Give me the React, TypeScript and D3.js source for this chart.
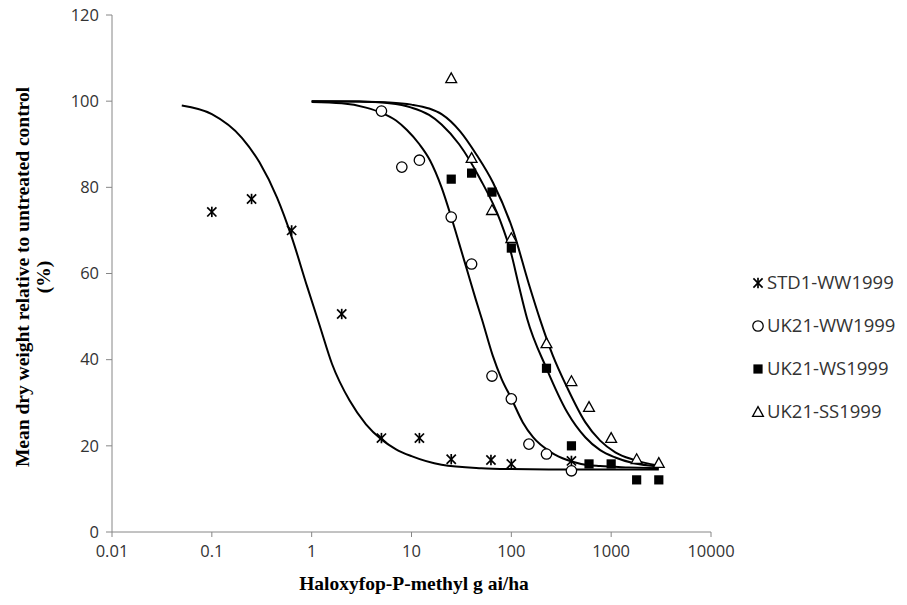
import React from 'react';
import * as d3 from 'd3';

const seriesNames = ['STD1-WW1999', 'UK21-WW1999', 'UK21-WS1999', 'UK21-SS1999'];
const xTickValues = [0.01, 0.1, 1, 10, 100, 1000, 10000];
const xTickLabels = ['0.01', '0.1', '1', '10', '100', '1000', '10000'];
const yTickValues = [0, 20, 40, 60, 80, 100, 120];

// observed points
const std1Dose = [0.1, 0.25, 0.63, 2, 5, 12, 25, 62.5, 100, 400];
const std1Val = [74.3, 77.3, 70, 50.6, 21.8, 21.8, 16.9, 16.7, 15.8, 16.5];
const ww99Dose = [5, 8, 12, 25, 40, 64, 100, 150, 225, 400];
const ww99Val = [97.7, 84.7, 86.3, 73.1, 62.2, 36.2, 30.9, 20.4, 18.1, 14.2];
const ws99Dose = [25, 40, 64, 100, 225, 400, 600, 1000, 1800, 3000];
const ws99Val = [81.9, 83.3, 78.9, 65.9, 38, 20, 15.8, 15.8, 12.1, 12.1];
const ss99Dose = [25, 40, 64, 100, 225, 400, 600, 1000, 1800, 3000];
const ss99Val = [105.3, 86.8, 74.7, 68.2, 43.8, 35, 29, 21.8, 16.9, 16];

// fitted curves
const std1CurveDose = [0.05, 0.1, 0.2, 0.3, 0.45, 0.63, 0.9, 1.2, 1.6, 2.4, 3.5, 5, 7, 10, 20, 50, 100, 300, 1000, 3000];
const std1CurveVal = [99.0, 97.0, 91.5, 85.8, 77.6, 68.5, 57, 48, 39, 30.5, 25, 21.5, 19.2, 17.6, 15.6, 14.8, 14.6, 14.5, 14.5, 14.5];
const ww99CurveDose = [1, 2, 3.5, 5, 7, 9, 12, 15.3, 20, 25, 30, 36, 44, 51, 65, 80, 100, 130, 165, 250, 363, 500, 776, 1500, 3000];
const ww99CurveVal = [99.8, 99.5, 98.5, 97.3, 95.5, 93.3, 90, 86.3, 80, 73.1, 67, 60.8, 54, 49.2, 41, 35.5, 31, 25.5, 22, 18.5, 16.7, 15.8, 15.3, 15, 14.8];
const ws99CurveDose = [1, 3, 6, 10, 15, 20, 30, 48.6, 77, 100, 118, 144, 225, 363, 550, 776, 1100, 1660, 3000];
const ws99CurveVal = [100, 99.9, 99.5, 98.5, 96.8, 94.6, 90, 82, 72.4, 64.5, 57.5, 49.5, 38, 27.8, 22, 19, 17.3, 16, 15.2];
const ss99CurveDose = [1, 3, 6, 10, 15, 20, 30.7, 45, 65.8, 104, 150, 194, 260, 363, 550, 776, 1100, 1660, 3000];
const ss99CurveVal = [100, 99.9, 99.7, 99.2, 98.3, 97, 93, 87.5, 81, 70, 57.5, 49.3, 41, 33.5, 25.5, 21.2, 18.5, 16.8, 15.4];

const W = 907;
const H = 605;

function Marker({ kind, x, y }: { kind: number; x: number; y: number }) {
  const s = 4.6;
  if (kind === 0) {
    return (
      <g stroke="#000" strokeWidth={1.7} fill="none">
        <line x1={x - s} y1={y - s} x2={x + s} y2={y + s} />
        <line x1={x - s} y1={y + s} x2={x + s} y2={y - s} />
        <line x1={x} y1={y - s - 0.6} x2={x} y2={y + s + 0.6} />
      </g>
    );
  }
  if (kind === 1) {
    return <circle cx={x} cy={y} r={5.2} fill="#fff" stroke="#000" strokeWidth={1.3} />;
  }
  if (kind === 2) {
    return <rect x={x - 4.6} y={y - 4.6} width={9.2} height={9.2} fill="#000" />;
  }
  const t = 5.4;
  return (
    <path
      d={`M${x},${y - t}L${x + t},${y + t * 0.8}L${x - t},${y + t * 0.8}Z`}
      fill="#fff"
      stroke="#000"
      strokeWidth={1.3}
    />
  );
}

export default function App() {
  const x = d3.scaleLog().domain([0.01, 10000]).range([112, 711]);
  const y = d3.scaleLinear().domain([0, 120]).range([532, 15]);

  const line = d3
    .line<[number, number]>()
    .x((d) => x(d[0]))
    .y((d) => y(d[1]))
    .curve(d3.curveMonotoneX);

  const curves = [
    d3.zip(std1CurveDose, std1CurveVal),
    d3.zip(ww99CurveDose, ww99CurveVal),
    d3.zip(ws99CurveDose, ws99CurveVal),
    d3.zip(ss99CurveDose, ss99CurveVal),
  ] as [number, number][][];

  const points = [
    d3.zip(std1Dose, std1Val),
    d3.zip(ww99Dose, ww99Val),
    d3.zip(ws99Dose, ws99Val),
    d3.zip(ss99Dose, ss99Val),
  ] as [number, number][][];

  const axisColor = '#868686';
  const tickFont = "'Open Sans', sans-serif";
  const serif = "'Liberation Serif', 'Times New Roman', serif";
  const legendRows = [283, 326, 369, 412];

  return (
    <svg
      width={W}
      height={H}
      style={{ position: 'absolute', left: 0, top: 0, background: '#fff' }}
    >
      <rect x={0} y={0} width={W} height={H} fill="#fff" />
      {/* axes */}
      <line x1={112} y1={y(120)} x2={112} y2={y(0)} stroke={axisColor} strokeWidth={1} />
      <line x1={112} y1={y(0)} x2={711} y2={y(0)} stroke={axisColor} strokeWidth={1} />
      {yTickValues.map((v) => (
        <g key={'y' + v}>
          <line x1={106} x2={112} y1={y(v)} y2={y(v)} stroke={axisColor} strokeWidth={1} />
          <text
            x={99}
            y={y(v)}
            dy="0.35em"
            textAnchor="end"
            fontFamily={tickFont}
            fontSize={16.5}
            fill="#333"
          >
            {v}
          </text>
        </g>
      ))}
      {xTickValues.map((v, i) => (
        <g key={'x' + v}>
          <line x1={x(v)} x2={x(v)} y1={y(0)} y2={y(0) + 5} stroke={axisColor} strokeWidth={1} />
          <text
            x={x(v)}
            y={y(0) + 19}
            dy="0.35em"
            textAnchor="middle"
            fontFamily={tickFont}
            fontSize={16.5}
            fill="#333"
          >
            {xTickLabels[i]}
          </text>
        </g>
      ))}

      {/* curves */}
      {curves.map((c, i) => (
        <path key={'c' + i} d={line(c) || ''} fill="none" stroke="#000" strokeWidth={2} />
      ))}

      {/* points */}
      {points.map((pts, i) =>
        pts.map((p, j) => <Marker key={i + '-' + j} kind={i} x={x(p[0])} y={y(p[1])} />)
      )}

      {/* axis titles */}
      <text
        x={414}
        y={590}
        textAnchor="middle"
        fontFamily={serif}
        fontWeight="bold"
        fontSize={19.5}
        fill="#000"
      >
        Haloxyfop-P-methyl g ai/ha
      </text>
      <g transform="translate(22,277) rotate(-90)">
        <text
          x={0}
          y={0}
          dy="0.35em"
          textAnchor="middle"
          fontFamily={serif}
          fontWeight="bold"
          fontSize={19.5}
          fill="#000"
        >
          Mean dry weight relative to untreated control
        </text>
        <text
          x={0}
          y={21}
          dy="0.35em"
          textAnchor="middle"
          fontFamily={serif}
          fontWeight="bold"
          fontSize={19.5}
          fill="#000"
        >
          (%)
        </text>
      </g>

      {/* legend */}
      {seriesNames.map((name, i) => (
        <g key={'l' + i}>
          <Marker kind={i} x={758} y={legendRows[i]} />
          <text
            x={767}
            y={legendRows[i]}
            dy="0.35em"
            fontFamily={tickFont}
            fontSize={18.5}
            fill="#333"
          >
            {name}
          </text>
        </g>
      ))}
    </svg>
  );
}
